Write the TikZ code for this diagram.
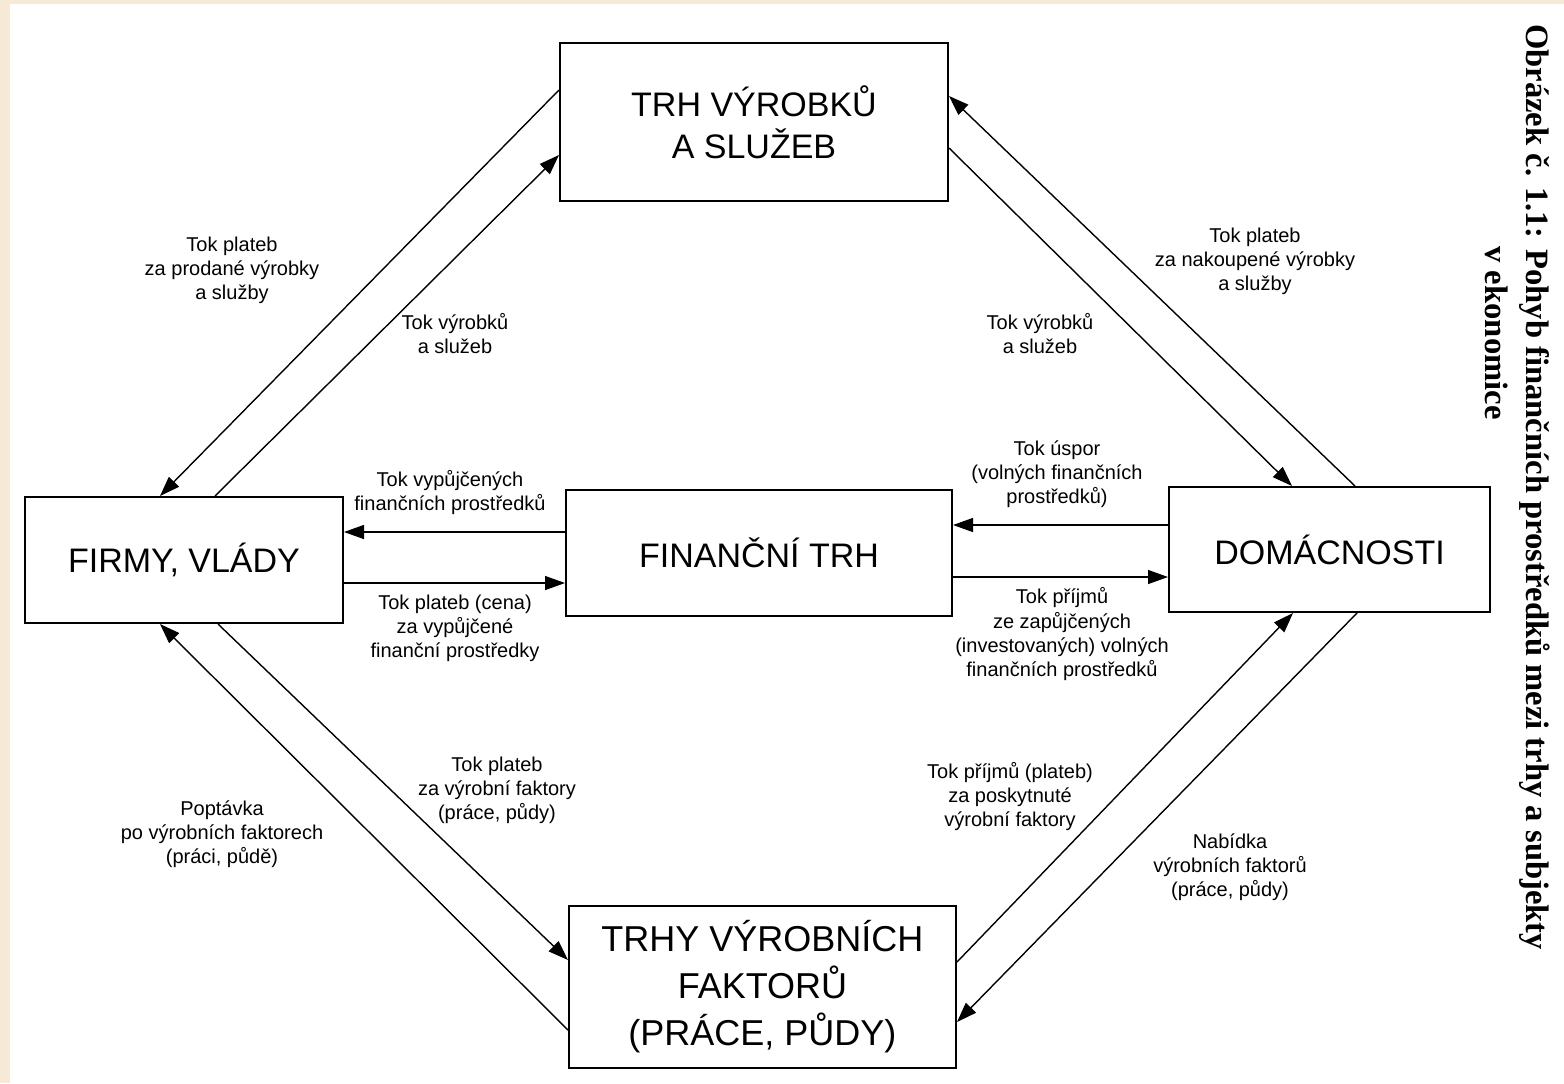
\documentclass[tikz,border=0pt]{standalone}
\usepackage{fontspec}
\setmainfont{Liberation Sans}
\newfontfamily\capfont{Liberation Serif}
\usetikzlibrary{arrows.meta}
\definecolor{paper}{RGB}{246,233,214}

\begin{document}
\begin{tikzpicture}[x=0.5pt,y=-0.5pt,
  box/.style={draw, line width=1pt, inner sep=0pt, align=center, font=\fontsize{17}{21}\selectfont},
  flow/.style={line width=0.7pt, -{Triangle[length=10pt,width=7pt]}},
  lbl/.style={align=center, inner sep=0pt, font=\fontsize{10}{12}\selectfont}]
\useasboundingbox (0,0) rectangle (1564,1083);
\fill[paper] (0,0) rectangle (1564,1083);
\fill[white] (10,4) rectangle (1564,1083);

\node[box, minimum width=194pt, minimum height=79pt] (prod) at (754,122) {TRH VÝROBKŮ\\A SLUŽEB};
\node[box, minimum width=159pt, minimum height=63pt] (firmy) at (184,560) {FIRMY, VLÁDY};
\node[box, minimum width=193pt, minimum height=63pt] (fin) at (759,553) {FINANČNÍ TRH};
\node[box, minimum width=160.5pt, minimum height=62.5pt] (dom) at (1329.5,549.5) {DOMÁCNOSTI};
\node[box, minimum width=193.5pt, minimum height=81pt, font=\fontsize{18}{23.5}\selectfont] (fakt) at (762.5,987) {TRHY VÝROBNÍCH\\FAKTORŮ\\(PRÁCE, PŮDY)};

\draw[flow] ([xshift=15.5pt]firmy.north) -- ([yshift=-16.5pt]prod.west);
\draw[flow] ([yshift=16pt]prod.west) -- ([xshift=-12pt]firmy.north);
\draw[flow] ([xshift=12.75pt]dom.north) -- ([yshift=13pt]prod.east);
\draw[flow] ([yshift=-13pt]prod.east) -- ([xshift=-18.75pt]dom.north);
\draw[flow] ([yshift=10.5pt]fin.west) -- ([yshift=14pt]firmy.east);
\draw[flow] ([yshift=-11.5pt]firmy.east) -- ([yshift=-15pt]fin.west);
\draw[flow] ([yshift=12.25pt]dom.west) -- ([yshift=14pt]fin.east);
\draw[flow] ([yshift=-12pt]fin.east) -- ([yshift=-13.75pt]dom.west);
\draw[flow] ([yshift=-21.5pt]fakt.west) -- ([xshift=-12pt]firmy.south);
\draw[flow] ([xshift=17pt]firmy.south) -- ([yshift=13.5pt]fakt.west);
\draw[flow] ([yshift=12.5pt]fakt.east) -- ([xshift=-18.25pt]dom.south);
\draw[flow] ([xshift=13.75pt]dom.south) -- ([yshift=-17.5pt]fakt.east);

\node[lbl] (l1) at (232,270) {Tok plateb\\za prodané výrobky\\a služby};
\node[lbl] (l2) at (455,334) {Tok výrobků\\a služeb};
\node[lbl] (l3) at (1040,334) {Tok výrobků\\a služeb};
\node[lbl] (l4) at (1255,261) {Tok plateb\\za nakoupené výrobky\\a služby};
\node[lbl] (l5) at (450,493) {Tok vypůjčených\\finančních prostředků};
\node[lbl] (l6) at (455,628) {Tok plateb (cena)\\za vypůjčené\\finanční prostředky};
\node[lbl] (l7) at (1057,474) {Tok úspor\\(volných finančních\\prostředků)};
\node[lbl] (l8) at (1062,634) {Tok příjmů\\ze zapůjčených\\(investovaných) volných\\finančních prostředků};
\node[lbl] (l9) at (497,790) {Tok plateb\\za výrobní faktory\\(práce, půdy)};
\node[lbl] (l10) at (222,834) {Poptávka\\po výrobních faktorech\\(práci, půdě)};
\node[lbl] (l11) at (1010,796) {Tok příjmů (plateb)\\za poskytnuté\\výrobní faktory};
\node[lbl] (l12) at (1230,867) {Nabídka\\výrobních faktorů\\(práce, půdy)};

\node[rotate=-90, inner sep=0pt, font=\capfont\bfseries\fontsize{16.3}{19}\selectfont] (cap1) at (1535,487) {Obrázek č. 1.1: Pohyb finančních prostředků mezi trhy a subjekty};
\node[rotate=-90, inner sep=0pt, font=\capfont\bfseries\fontsize{16.3}{19}\selectfont] (cap2) at (1497,333) {v ekonomice};
\end{tikzpicture}
\end{document}
